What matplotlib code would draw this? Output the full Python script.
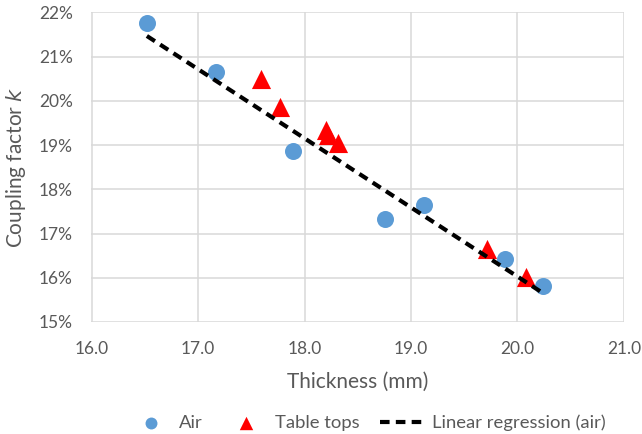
import numpy as np
import matplotlib
matplotlib.use("Agg")
import matplotlib.pyplot as plt
from matplotlib.ticker import FuncFormatter

plt.rcParams['font.family'] = ['Lato', 'DejaVu Sans']

air_x = [16.52, 17.17, 17.89, 18.76, 19.12, 19.88, 20.24]
air_y = [21.75, 20.65, 18.86, 17.33, 17.65, 16.42, 15.81]
tab_x = [17.59, 17.77, 18.20, 18.22, 18.31, 19.71, 20.08]
tab_y = [20.49, 19.85, 19.35, 19.22, 19.05, 16.66, 16.02]

xticks = [16.0, 17.0, 18.0, 19.0, 20.0, 21.0]
yticks = [15, 16, 17, 18, 19, 20, 21, 22]

fig = plt.figure(figsize=(6.42, 4.34), dpi=100)
ax = fig.add_axes([91.5/642, 1-322/434, (624-91.5)/642, (322-12.3)/434])

slope, inter = np.polyfit(air_x, air_y, 1)
lx = np.array([min(air_x), max(air_x)])
ax.plot(lx, slope*lx + inter, color='black', linestyle=(0, (2.3, 1.5)), linewidth=3.0,
        label='Linear regression (air)', zorder=4)
ax.scatter(air_x, air_y, s=150, color='#5b9bd5', marker='o', linewidths=0, label='Air', zorder=3)
ax.scatter(tab_x, tab_y, s=190, color='#ff0000', marker='^', linewidths=0, label='Table tops', zorder=3)

ax.set_xlim(16, 21)
ax.set_ylim(15, 22)
ax.set_xticks(xticks)
ax.set_yticks(yticks)
ax.xaxis.set_major_formatter(FuncFormatter(lambda v, p: f"{v:.1f}"))
ax.yaxis.set_major_formatter(FuncFormatter(lambda v, p: f"{v:.0f}%"))
ax.grid(True, color='#d9d9d9', linewidth=1.1)
ax.set_axisbelow(True)
for s in ax.spines.values():
    s.set_visible(False)
ax.tick_params(length=0, labelsize=12.5, colors='#595959', pad=13.5)

ax.set_xlabel('Thickness (mm)', fontsize=15, color='#595959', labelpad=11)
ax.set_ylabel('Coupling factor $\\mathit{k}$', fontsize=15, color='#595959', labelpad=8)

h, l = ax.get_legend_handles_labels()
order = [1, 2, 0]
fig.legend([h[i] for i in order], [l[i] for i in order], loc='center', bbox_to_anchor=(0.571, 1-423/434),
           ncol=3, frameon=False, fontsize=13.3, labelcolor='#595959', handlelength=2.5,
           columnspacing=1.1, handletextpad=0.3, markerscale=0.7)

fig.savefig('out.png', dpi=100)
